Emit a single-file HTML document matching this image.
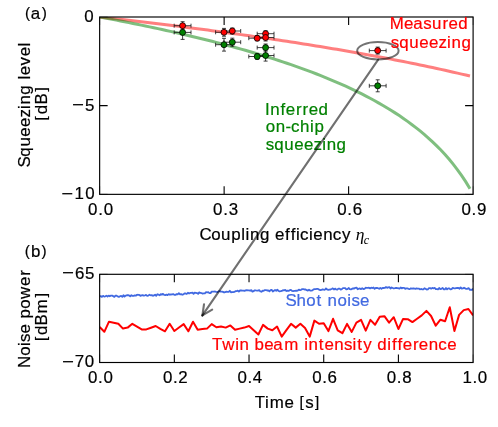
<!DOCTYPE html>
<html lang="en"><head><meta charset="utf-8"><title>fig</title>
<style>html,body{margin:0;padding:0;background:#fff}svg{display:block;will-change:transform}text{font-family:"Liberation Sans",sans-serif;}</style></head><body>
<svg width="498" height="427" viewBox="0 0 498 427">
<rect width="498" height="427" fill="#fff"/>
<defs><clipPath id="c1"><rect x="99.65" y="17.0" width="373.45" height="177.35"/></clipPath><clipPath id="c2"><rect x="99.65" y="274.3" width="373.45" height="88.20"/></clipPath></defs>
<polyline points="99.65,17.00 103.81,17.46 107.97,17.93 112.13,18.40 116.29,18.88 120.46,19.35 124.62,19.83 128.78,20.31 132.94,20.80 137.10,21.29 141.26,21.78 145.42,22.27 149.58,22.77 153.74,23.27 157.91,23.78 162.07,24.29 166.23,24.80 170.39,25.31 174.55,25.83 178.71,26.35 182.87,26.88 187.03,27.40 191.19,27.94 195.36,28.47 199.52,29.01 203.68,29.56 207.84,30.10 212.00,30.65 216.16,31.21 220.32,31.77 224.48,32.33 228.64,32.90 232.81,33.47 236.97,34.05 241.13,34.63 245.29,35.21 249.45,35.80 253.61,36.40 257.77,36.99 261.93,37.60 266.09,38.21 270.26,38.82 274.42,39.44 278.58,40.06 282.74,40.69 286.90,41.32 291.06,41.96 295.22,42.60 299.38,43.25 303.54,43.90 307.71,44.56 311.87,45.23 316.03,45.90 320.19,46.58 324.35,47.26 328.51,47.95 332.67,48.65 336.83,49.35 340.99,50.06 345.15,50.77 349.32,51.50 353.48,52.22 357.64,52.96 361.80,53.70 365.96,54.45 370.12,55.21 374.28,55.98 378.44,56.75 382.60,57.53 386.77,58.32 390.93,59.11 395.09,59.92 399.25,60.73 403.41,61.55 407.57,62.38 411.73,63.22 415.89,64.07 420.05,64.93 424.22,65.80 428.38,66.68 432.54,67.57 436.70,68.47 440.86,69.37 445.02,70.30 449.18,71.23 453.34,72.17 457.50,73.12 461.67,74.09 465.83,75.07 469.99,76.06" fill="none" stroke="#ff0000" stroke-opacity="0.5" stroke-width="3" clip-path="url(#c1)"/>
<polyline points="99.65,17.00 103.81,17.78 107.97,18.56 112.13,19.35 116.29,20.15 120.46,20.96 124.62,21.78 128.78,22.61 132.94,23.44 137.10,24.29 141.26,25.14 145.42,26.00 149.58,26.88 153.74,27.76 157.91,28.65 162.07,29.56 166.23,30.47 170.39,31.40 174.55,32.33 178.71,33.28 182.87,34.24 187.03,35.21 191.19,36.20 195.36,37.20 199.52,38.21 203.68,39.23 207.84,40.27 212.00,41.32 216.16,42.39 220.32,43.47 224.48,44.56 228.64,45.68 232.81,46.81 236.97,47.95 241.13,49.12 245.29,50.30 249.45,51.50 253.61,52.71 257.77,53.95 261.93,55.21 266.09,56.49 270.26,57.79 274.42,59.11 278.58,60.46 282.74,61.83 286.90,63.22 291.06,64.64 295.22,66.09 299.38,67.57 303.54,69.07 307.71,70.60 311.87,72.17 316.03,73.77 320.19,75.40 324.35,77.06 328.51,78.77 332.67,80.51 336.83,82.29 340.99,84.12 345.15,85.98 349.32,87.90 353.48,89.86 357.64,91.88 361.80,93.95 365.96,96.08 370.12,98.26 374.28,100.51 378.44,102.83 382.60,105.22 386.77,107.69 390.93,110.24 395.09,112.88 399.25,115.60 403.41,118.43 407.57,121.37 411.73,124.43 415.89,127.61 420.05,130.93 424.22,134.39 428.38,138.02 432.54,141.83 436.70,145.84 440.86,150.07 445.02,154.54 449.18,159.29 453.34,164.36 457.50,169.77 461.67,175.60 465.83,181.91 469.99,188.78" fill="none" stroke="#008000" stroke-opacity="0.5" stroke-width="3" clip-path="url(#c1)"/>
<path d="M174.2 25.7H191.0M174.2 23.7v4M191.0 23.7v4M182.6 21.7V29.7M180.6 21.7h4M180.6 29.7h4" stroke="#111" stroke-width="0.8" fill="none"/>
<path d="M215.6 32.3H232.4M215.6 30.3v4M232.4 30.3v4M224.0 28.4V36.2M222.0 28.4h4M222.0 36.2h4" stroke="#111" stroke-width="0.8" fill="none"/>
<path d="M223.9 31.0H240.7M223.9 29.0v4M240.7 29.0v4M232.3 28.0V34.0M230.3 28.0h4M230.3 34.0h4" stroke="#111" stroke-width="0.8" fill="none"/>
<path d="M248.8 38.2H265.6M248.8 36.2v4M265.6 36.2v4M257.2 35.6V40.8M255.2 35.6h4M255.2 40.8h4" stroke="#111" stroke-width="0.8" fill="none"/>
<path d="M257.2 33.7H274.0M257.2 31.7v4M274.0 31.7v4M265.6 30.7V36.7M263.6 30.7h4M263.6 36.7h4" stroke="#111" stroke-width="0.8" fill="none"/>
<path d="M257.2 37.5H274.0M257.2 35.5v4M274.0 35.5v4M265.6 34.0V41.0M263.6 34.0h4M263.6 41.0h4" stroke="#111" stroke-width="0.8" fill="none"/>
<path d="M369.3 50.6H386.1M369.3 48.6v4M386.1 48.6v4M377.7 47.1V54.1M375.7 47.1h4M375.7 54.1h4" stroke="#111" stroke-width="0.8" fill="none"/>
<path d="M174.2 32.4H191.0M174.2 30.4v4M191.0 30.4v4M182.6 25.4V39.4M180.6 25.4h4M180.6 39.4h4" stroke="#111" stroke-width="0.8" fill="none"/>
<path d="M215.6 44.7H232.4M215.6 42.7v4M232.4 42.7v4M224.0 38.3V51.1M222.0 38.3h4M222.0 51.1h4" stroke="#111" stroke-width="0.8" fill="none"/>
<path d="M223.9 42.2H240.7M223.9 40.2v4M240.7 40.2v4M232.3 38.2V46.2M230.3 38.2h4M230.3 46.2h4" stroke="#111" stroke-width="0.8" fill="none"/>
<path d="M248.8 56.5H265.6M248.8 54.5v4M265.6 54.5v4M257.2 53.7V59.3M255.2 53.7h4M255.2 59.3h4" stroke="#111" stroke-width="0.8" fill="none"/>
<path d="M257.2 47.6H274.0M257.2 45.6v4M274.0 45.6v4M265.6 44.0V51.2M263.6 44.0h4M263.6 51.2h4" stroke="#111" stroke-width="0.8" fill="none"/>
<path d="M257.2 55.5H274.0M257.2 53.5v4M274.0 53.5v4M265.6 49.9V61.1M263.6 49.9h4M263.6 61.1h4" stroke="#111" stroke-width="0.8" fill="none"/>
<path d="M369.3 85.8H386.1M369.3 83.8v4M386.1 83.8v4M377.7 79.8V91.8M375.7 79.8h4M375.7 91.8h4" stroke="#111" stroke-width="0.8" fill="none"/>
<circle cx="182.6" cy="25.7" r="3" fill="#ff0000" stroke="#000" stroke-width="0.8"/>
<circle cx="224.0" cy="32.3" r="3" fill="#ff0000" stroke="#000" stroke-width="0.8"/>
<circle cx="232.3" cy="31.0" r="3" fill="#ff0000" stroke="#000" stroke-width="0.8"/>
<circle cx="257.2" cy="38.2" r="3" fill="#ff0000" stroke="#000" stroke-width="0.8"/>
<circle cx="265.6" cy="33.7" r="3" fill="#ff0000" stroke="#000" stroke-width="0.8"/>
<circle cx="265.6" cy="37.5" r="3" fill="#ff0000" stroke="#000" stroke-width="0.8"/>
<circle cx="377.7" cy="50.6" r="3" fill="#ff0000" stroke="#000" stroke-width="0.8"/>
<circle cx="182.6" cy="32.4" r="3" fill="#008000" stroke="#000" stroke-width="0.8"/>
<circle cx="224.0" cy="44.7" r="3" fill="#008000" stroke="#000" stroke-width="0.8"/>
<circle cx="232.3" cy="42.2" r="3" fill="#008000" stroke="#000" stroke-width="0.8"/>
<circle cx="257.2" cy="56.5" r="3" fill="#008000" stroke="#000" stroke-width="0.8"/>
<circle cx="265.6" cy="47.6" r="3" fill="#008000" stroke="#000" stroke-width="0.8"/>
<circle cx="265.6" cy="55.5" r="3" fill="#008000" stroke="#000" stroke-width="0.8"/>
<circle cx="377.7" cy="85.8" r="3" fill="#008000" stroke="#000" stroke-width="0.8"/>
<ellipse cx="377.9" cy="50.8" rx="20.7" ry="8.7" fill="none" stroke="#000" stroke-opacity="0.55" stroke-width="2"/>
<polyline points="99.65,296.38 100.78,296.05 101.91,296.91 103.05,295.84 104.18,296.64 105.31,296.30 106.44,295.71 107.57,296.49 108.70,295.61 109.84,296.29 110.97,295.60 112.10,295.60 113.23,296.17 114.36,296.86 115.49,295.56 116.62,295.70 117.76,296.40 118.89,296.94 120.02,296.24 121.15,295.88 122.28,296.89 123.42,295.18 124.55,296.61 125.68,295.55 126.81,295.26 127.94,295.17 129.07,295.48 130.21,296.36 131.34,295.19 132.47,295.87 133.60,295.94 134.73,295.43 135.86,295.71 137.00,294.80 138.13,294.76 139.26,294.99 140.39,295.81 141.52,295.32 142.65,295.09 143.79,295.54 144.92,295.27 146.05,294.96 147.18,295.81 148.31,295.61 149.44,294.76 150.58,295.31 151.71,295.17 152.84,295.76 153.97,295.45 155.10,294.61 156.23,295.80 157.37,294.21 158.50,294.70 159.63,295.26 160.76,294.13 161.89,294.68 163.02,293.83 164.16,294.91 165.29,295.04 166.42,294.65 167.55,295.14 168.68,294.09 169.81,294.73 170.94,294.50 172.08,294.42 173.21,294.15 174.34,294.80 175.47,294.94 176.60,294.04 177.74,294.34 178.87,293.21 180.00,294.31 181.13,294.17 182.26,294.74 183.39,294.39 184.53,293.37 185.66,293.51 186.79,293.97 187.92,292.76 189.05,293.50 190.18,292.93 191.31,292.79 192.45,292.64 193.58,293.87 194.71,292.67 195.84,292.84 196.97,293.05 198.11,293.86 199.24,292.36 200.37,292.94 201.50,293.04 202.63,293.56 203.76,293.37 204.90,293.37 206.03,292.23 207.16,292.40 208.29,292.22 209.42,293.09 210.55,293.14 211.69,291.61 212.82,291.57 213.95,291.59 215.08,291.52 216.21,291.94 217.34,292.09 218.48,291.47 219.61,290.98 220.74,291.69 221.87,291.57 223.00,291.89 224.13,292.55 225.27,292.05 226.40,291.70 227.53,291.85 228.66,291.93 229.79,290.77 230.92,292.26 232.06,292.02 233.19,292.15 234.32,291.98 235.45,291.22 236.58,291.20 237.71,290.64 238.85,291.56 239.98,290.50 241.11,290.48 242.24,290.70 243.37,290.58 244.50,290.87 245.64,290.32 246.77,290.19 247.90,290.43 249.03,290.31 250.16,290.75 251.29,290.13 252.43,291.64 253.56,291.16 254.69,290.30 255.82,290.48 256.95,290.63 258.08,290.65 259.22,290.20 260.35,291.49 261.48,291.73 262.61,290.77 263.74,290.79 264.87,290.05 266.00,290.07 267.14,290.49 268.27,290.33 269.40,291.33 270.53,290.11 271.66,289.85 272.80,291.50 273.93,290.73 275.06,290.03 276.19,290.72 277.32,289.78 278.45,290.67 279.59,291.46 280.72,291.24 281.85,290.92 282.98,290.12 284.11,290.30 285.24,289.92 286.38,291.00 287.51,290.54 288.64,290.95 289.77,290.10 290.90,289.87 292.03,290.89 293.17,291.17 294.30,290.89 295.43,290.77 296.56,290.75 297.69,290.58 298.82,289.61 299.96,290.10 301.09,289.77 302.22,289.14 303.35,289.11 304.48,289.52 305.61,289.45 306.75,290.19 307.88,290.63 309.01,289.67 310.14,290.52 311.27,290.57 312.40,290.47 313.54,289.37 314.67,289.07 315.80,289.05 316.93,288.96 318.06,288.93 319.19,289.65 320.33,290.11 321.46,289.96 322.59,289.28 323.72,289.55 324.85,289.78 325.98,288.45 327.12,289.45 328.25,289.86 329.38,289.60 330.51,289.50 331.64,288.97 332.77,288.40 333.91,289.46 335.04,288.60 336.17,289.42 337.30,289.70 338.43,288.64 339.56,288.63 340.70,289.59 341.83,289.17 342.96,288.15 344.09,288.05 345.22,288.07 346.35,289.40 347.49,289.20 348.62,287.99 349.75,289.19 350.88,289.45 352.01,288.84 353.14,288.27 354.28,288.60 355.41,287.83 356.54,287.59 357.67,289.29 358.80,288.69 359.93,288.45 361.07,289.16 362.20,288.24 363.33,289.00 364.46,288.90 365.59,287.77 366.72,287.82 367.86,287.87 368.99,287.75 370.12,288.35 371.25,287.74 372.38,288.01 373.51,287.47 374.64,288.85 375.78,287.82 376.91,287.99 378.04,288.19 379.17,288.74 380.30,287.85 381.44,288.72 382.57,287.95 383.70,287.98 384.83,287.95 385.96,287.05 387.09,287.83 388.23,287.39 389.36,287.09 390.49,288.55 391.62,287.44 392.75,288.01 393.88,288.48 395.01,288.20 396.15,287.81 397.28,288.18 398.41,288.27 399.54,288.70 400.67,287.50 401.81,288.34 402.94,287.81 404.07,287.88 405.20,288.79 406.33,288.34 407.46,288.46 408.60,288.84 409.73,289.14 410.86,288.32 411.99,288.64 413.12,288.47 414.25,288.51 415.39,288.85 416.52,288.44 417.65,288.61 418.78,288.54 419.91,289.39 421.04,288.98 422.18,289.32 423.31,289.46 424.44,288.26 425.57,288.82 426.70,289.53 427.83,289.37 428.97,288.13 430.10,288.12 431.23,288.68 432.36,287.99 433.49,288.27 434.62,287.95 435.75,289.01 436.89,289.20 438.02,289.38 439.15,288.03 440.28,289.02 441.41,288.90 442.55,287.95 443.68,289.26 444.81,289.39 445.94,288.03 447.07,289.33 448.20,288.31 449.34,288.45 450.47,289.34 451.60,289.04 452.73,287.81 453.86,288.28 454.99,288.41 456.12,288.07 457.26,287.80 458.39,288.00 459.52,288.71 460.65,287.48 461.78,288.52 462.92,288.39 464.05,287.71 465.18,288.36 466.31,288.96 467.44,288.84 468.57,288.11 469.71,289.85 470.84,289.57 471.97,289.98 473.10,288.49" fill="none" stroke="#4169e1" stroke-width="1.8" stroke-linejoin="round" clip-path="url(#c2)"/>
<polyline points="99.65,327.0 104.32,331.8 108.99,321.7 113.65,322.7 118.32,323.8 122.99,328.6 127.66,327.6 132.33,323.8 137.00,326.6 141.66,329.4 146.33,329.4 151.00,327.7 155.67,326.0 160.34,328.9 165.00,331.3 169.67,323.8 174.34,331.0 179.01,327.5 183.68,324.1 188.34,331.3 193.01,321.7 197.68,329.7 202.35,329.1 207.02,328.6 211.69,324.1 216.35,327.3 221.02,326.5 225.69,327.6 230.36,325.4 235.03,329.7 239.69,328.6 244.36,327.6 249.03,326.0 253.70,330.3 258.37,334.5 263.03,324.9 267.70,328.6 272.37,330.2 277.04,326.5 281.71,336.6 286.38,330.2 291.04,323.8 295.71,327.6 300.38,323.8 305.05,328.1 309.72,336.6 314.38,320.6 319.05,323.8 323.72,323.2 328.39,331.1 333.06,318.8 337.72,330.3 342.39,333.2 347.06,323.9 351.73,331.9 356.40,322.6 361.07,319.9 365.73,330.7 370.40,319.9 375.07,324.7 379.74,316.7 384.41,316.2 389.07,322.6 393.74,317.2 398.41,329.0 403.08,318.9 407.75,319.2 412.41,322.1 417.08,318.8 421.75,315.4 426.42,310.9 431.09,316.0 435.75,325.7 440.42,319.7 445.09,321.3 449.76,307.3 454.43,331.0 459.10,314.9 463.76,310.1 468.43,309.0 473.10,315.4" fill="none" stroke="#ff0000" stroke-width="2" stroke-linejoin="round" clip-path="url(#c2)"/>
<rect x="99.65" y="17.0" width="373.45" height="177.35" fill="none" stroke="#000" stroke-width="1.15"/>
<path d="M224.13 17.0v8M224.13 194.35v-8M348.62 17.0v8M348.62 194.35v-8M99.65 105.67h8M473.1 105.67h-8" stroke="#000" stroke-width="1.1" fill="none"/>
<path d="M99.65 17.0v8M99.65 194.35v-8M473.10 17.0v8M473.10 194.35v-8M99.65 17.00h8M473.1 17.00h-8M99.65 194.35h8M473.1 194.35h-8" stroke="#000" stroke-width="1.1" stroke-opacity="0.35" fill="none"/>
<rect x="99.65" y="274.3" width="373.45" height="88.20" fill="none" stroke="#000" stroke-width="1.15"/>
<path d="M174.34 274.3v8M174.34 362.5v-8M249.03 274.3v8M249.03 362.5v-8M323.72 274.3v8M323.72 362.5v-8M398.41 274.3v8M398.41 362.5v-8" stroke="#000" stroke-width="1.1" fill="none"/>
<path d="M99.65 274.3v8M99.65 362.5v-8M473.10 274.3v8M473.10 362.5v-8M99.65 274.30h8M473.1 274.30h-8M99.65 362.50h8M473.1 362.50h-8" stroke="#000" stroke-width="1.1" stroke-opacity="0.35" fill="none"/>
<text font-size="16.9" fill="#000" stroke="#000" stroke-width="0.2"><tspan x="25.09" y="17.94" font-size="15.30">(</tspan><tspan x="30.65" y="19.00">a</tspan><tspan x="41.71" y="17.94" font-size="15.30">)</tspan></text>
<text font-size="16.9" fill="#000" stroke="#000" stroke-width="0.2"><tspan x="24.77" y="255.54" font-size="15.30">(</tspan><tspan x="31.09" y="256.60">b</tspan><tspan x="41.53" y="255.54" font-size="15.30">)</tspan></text>
<text font-size="16.9" fill="#000" stroke="#000" stroke-width="0.2"><tspan x="84.15" y="21.70">0</tspan></text>
<text transform="translate(77.99,111.45) scale(1.22,1.1)" x="-4.94" y="0" font-size="16.9" fill="#000">−</text>
<text font-size="16.9" fill="#000" stroke="#000" stroke-width="0.2"><tspan x="84.96" y="110.90">5</tspan></text>
<text transform="translate(67.18,199.95) scale(1.22,1.1)" x="-4.94" y="0" font-size="16.9" fill="#000">−</text>
<text font-size="16.9" fill="#000" stroke="#000" stroke-width="0.2"><tspan x="74.61 85.23" y="199.40">10</tspan></text>
<text font-size="16.9" fill="#000" stroke="#000" stroke-width="0.2"><tspan x="88.11 98.25 103.69" y="214.80">0.0</tspan></text>
<text font-size="16.9" fill="#000" stroke="#000" stroke-width="0.2"><tspan x="212.95 223.16 228.70" y="214.80">0.3</tspan></text>
<text font-size="16.9" fill="#000" stroke="#000" stroke-width="0.2"><tspan x="337.20 347.32 352.74" y="214.80">0.6</tspan></text>
<text font-size="16.9" fill="#000" stroke="#000" stroke-width="0.2"><tspan x="461.42 471.58 476.99" y="214.80">0.9</tspan></text>
<text font-size="16.9" fill="#000" stroke="#000" stroke-width="0.2"><tspan x="199.44 211.29 221.10 231.26 241.20 245.60 250.01 259.91 269.72 274.94 285.10 290.67 295.93 299.92 309.01 313.27 323.15 332.75 341.96" y="239.70">Coupling efficiency</tspan></text>
<text x="355.7" y="239.6" font-size="17.5" font-style="italic" style="font-family:'Liberation Serif',serif">η</text>
<text x="363.8" y="244.1" font-size="12" font-style="italic" style="font-family:'Liberation Serif',serif">c</text>
<text transform="translate(30.3,165.8) rotate(-90)" font-size="16.9" fill="#000" stroke="#000" stroke-width="0.2"><tspan x="-1.59 9.16 19.21 29.11 38.80 48.30 56.89 61.27 71.14 80.93 86.24 90.48 100.43 109.49 119.31" y="0.00">Squeezing level</tspan></text>
<text transform="translate(47.3,119.7) rotate(-90)" font-size="16.9" fill="#000" stroke="#000" stroke-width="0.2"><tspan x="-0.92" y="-1.07" font-size="15.30">[</tspan><tspan x="5.35 15.27" y="0.00">dB</tspan><tspan x="28.17" y="-1.07" font-size="15.30">]</tspan></text>
<text font-size="16.9" fill="#ff0000" stroke="#ff0000" stroke-width="0.2"><tspan x="389.87 404.00 413.14 423.36 431.92 442.46 448.48 458.30" y="29.00">Measured</tspan></text>
<text font-size="16.9" fill="#ff0000" stroke="#ff0000" stroke-width="0.2"><tspan x="390.75 399.20 409.29 419.23 428.96 438.49 447.11 451.52 461.43" y="48.40">squeezing</tspan></text>
<text font-size="16.9" fill="#008000" stroke="#008000" stroke-width="0.2"><tspan x="265.04 270.13 280.52 285.71 296.06 302.61 308.65 318.49" y="114.50">Inferred</tspan></text>
<text font-size="16.9" fill="#008000" stroke="#008000" stroke-width="0.2"><tspan x="265.86 275.72 285.42 291.00 300.07 310.08 314.55" y="132.20">on-chip</tspan></text>
<text font-size="16.9" fill="#008000" stroke="#008000" stroke-width="0.2"><tspan x="265.76 274.23 284.35 294.31 304.07 313.62 322.26 326.69 336.62" y="149.60">squeezing</tspan></text>
<text transform="translate(68.11,279.25) scale(1.22,1.1)" x="-4.94" y="0" font-size="16.9" fill="#000">−</text>
<text font-size="16.9" fill="#000" stroke="#000" stroke-width="0.2"><tspan x="74.98 84.91" y="278.70">65</tspan></text>
<text transform="translate(68.06,367.75) scale(1.22,1.1)" x="-4.94" y="0" font-size="16.9" fill="#000">−</text>
<text font-size="16.9" fill="#000" stroke="#000" stroke-width="0.2"><tspan x="74.77 84.69" y="367.20">70</tspan></text>
<text font-size="16.9" fill="#000" stroke="#000" stroke-width="0.2"><tspan x="88.09 98.10 103.41" y="383.00">0.0</tspan></text>
<text font-size="16.9" fill="#000" stroke="#000" stroke-width="0.2"><tspan x="162.88 173.07 178.34" y="383.00">0.2</tspan></text>
<text font-size="16.9" fill="#000" stroke="#000" stroke-width="0.2"><tspan x="237.45 247.40 252.65" y="383.00">0.4</tspan></text>
<text font-size="16.9" fill="#000" stroke="#000" stroke-width="0.2"><tspan x="312.15 322.14 327.43" y="383.00">0.6</tspan></text>
<text font-size="16.9" fill="#000" stroke="#000" stroke-width="0.2"><tspan x="386.86 396.87 402.19" y="383.00">0.8</tspan></text>
<text font-size="16.9" fill="#000" stroke="#000" stroke-width="0.2"><tspan x="462.61 472.60 477.81" y="383.00">1.0</tspan></text>
<text font-size="16.9" fill="#000" stroke="#000" stroke-width="0.2"><tspan x="254.70 264.98 269.71 284.55 294.06" y="407.60">Time </tspan><tspan x="299.44" y="406.53" font-size="15.30">[</tspan><tspan x="305.20" y="407.60">s</tspan><tspan x="314.93" y="406.53" font-size="15.30">]</tspan></text>
<text transform="translate(30.3,366.2) rotate(-90)" font-size="16.9" fill="#000" stroke="#000" stroke-width="0.2"><tspan x="-1.75 10.40 20.25 24.32 32.74 42.26 47.69 57.44 67.32 80.08 90.34" y="0.00">Noise power</tspan></text>
<text transform="translate(47.3,340.0) rotate(-90)" font-size="16.9" fill="#000" stroke="#000" stroke-width="0.2"><tspan x="-0.97" y="-1.07" font-size="15.30">[</tspan><tspan x="5.06 14.64 26.47" y="0.00">dBm</tspan><tspan x="42.72" y="-1.07" font-size="15.30">]</tspan></text>
<text font-size="16.9" fill="#4169e1" stroke="#4169e1" stroke-width="0.2"><tspan x="285.45 296.41 306.33 316.62 322.14 327.58 337.46 347.37 351.49 359.98" y="305.70">Shot noise</tspan></text>
<text font-size="16.9" fill="#ff0000" stroke="#ff0000" stroke-width="0.2"><tspan x="212.00 222.28 235.15 239.52 249.18 254.57 264.34 273.37 284.16 298.82 304.14 308.52 318.87 324.51 334.34 343.98 352.51 357.26 363.17 372.05 377.26 387.36 392.04 397.58 402.67 412.89 418.82 428.65 438.21 447.13" y="350.40">Twin beam intensity difference</tspan></text>
<g stroke="#000" stroke-opacity="0.56" stroke-width="2.1" fill="none" stroke-linecap="round"><path d="M378.2 59.6L202.4 315.4"/><path d="M204.0 304.3L202.4 315.4"/><path d="M212.2 309.7L202.4 315.4"/></g>
</svg></body></html>
